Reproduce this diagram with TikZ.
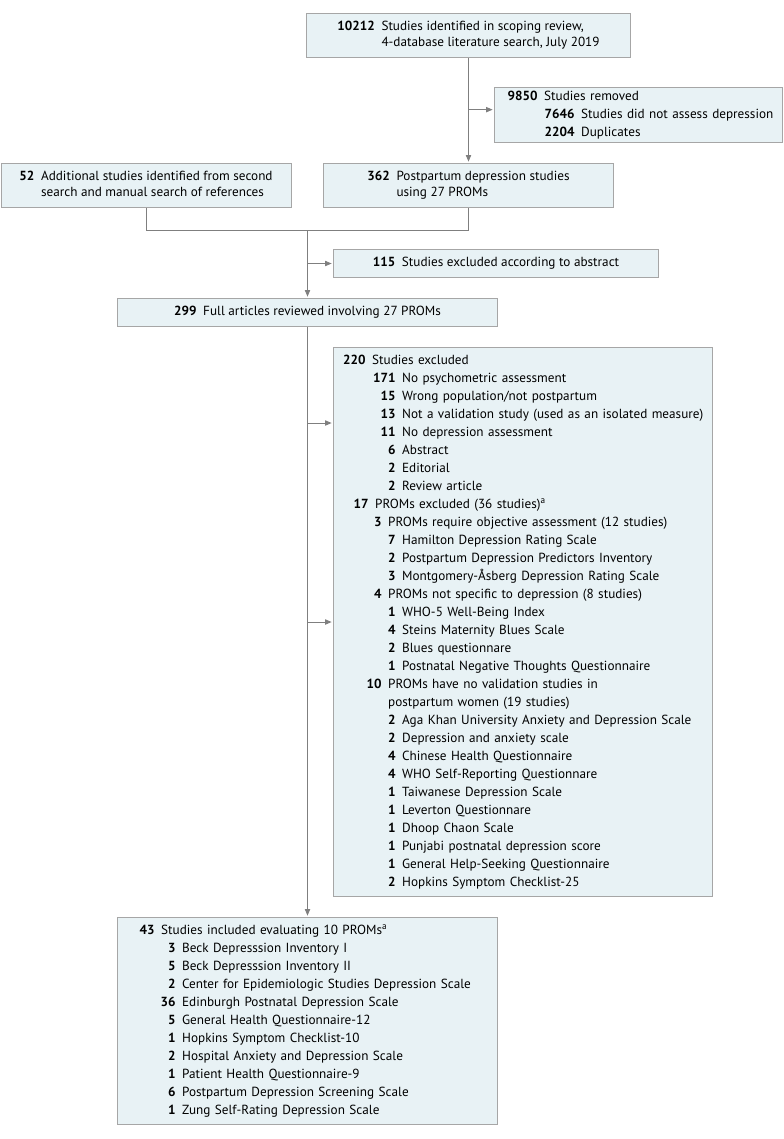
\documentclass[tikz,border=0pt]{standalone}
\usepackage{fontspec}
\setmainfont{PT Sans}
\usetikzlibrary{arrows.meta,positioning,calc}
\definecolor{boxfill}{HTML}{E8F2F5}
\definecolor{boxline}{HTML}{A6A6A6}
\definecolor{flowline}{HTML}{7F7F7F}
\newcommand{\itm}[3]{\hspace*{#1}\llap{\textbf{#2}}\hspace{5pt}#3}
\newcommand{\cnt}[2]{\textbf{#1}\hspace{5pt}\begin{tabular}[t]{@{}l@{}}#2\end{tabular}}

\begin{document}
\begin{tikzpicture}[
  x=0.75pt,y=-0.75pt,
  b/.style={draw=boxline,fill=boxfill,line width=0.75pt,inner sep=0pt,anchor=north west,font=\fontsize{9.9}{11.7}\selectfont},
  lst/.style={b,align=left,font=\fontsize{9.9}{13.5}\selectfont},
  arr/.style={-{Triangle[length=5pt,width=4pt]},draw=flowline,line width=0.75pt,shorten >=1pt},
  ln/.style={draw=flowline,line width=0.75pt}
]
\useasboundingbox (0,0) rectangle (783,1139);
\node[b,minimum width=243pt,minimum height=33pt] (src) at (306,13)
  {\cnt{10212}{Studies identified in scoping review,\\4-database literature search, July 2019}};
\node[lst,text width=216pt,minimum height=41.25pt] (rem) at (494,87)
  {\itm{32.25pt}{9850}{Studies removed}\\
   \itm{60pt}{7646}{Studies did not assess depression}\\
   \itm{60pt}{2204}{Duplicates}};
\node[b,minimum width=217.5pt,minimum height=33pt] (pp) at (323,163)
  {\cnt{362}{Postpartum depression studies\\using 27 PROMs}};
\node[b,minimum width=217.5pt,minimum height=33pt] (add) at (0.5,163)
  {\cnt{52}{Additional studies identified from second\\search and manual search of references}};
\node[b,minimum width=243.75pt,minimum height=21pt] (abs) at (333,249)
  {\textbf{115}\hspace{5pt}Studies excluded according to abstract};
\node[b,minimum width=285pt,minimum height=21pt] (full) at (117,298)
  {\textbf{299}\hspace{5pt}Full articles reviewed involving 27 PROMs};
\node[lst,text width=284.25pt,minimum height=411.75pt] (exc) at (333,347)
  {\itm{24pt}{220}{Studies excluded}\\
   \itm{46.5pt}{171}{No psychometric assessment}\\
   \itm{46.5pt}{15}{Wrong population/not postpartum}\\
   \itm{46.5pt}{13}{Not a validation study (used as an isolated measure)}\\
   \itm{46.5pt}{11}{No depression assessment}\\
   \itm{46.5pt}{6}{Abstract}\\
   \itm{46.5pt}{2}{Editorial}\\
   \itm{46.5pt}{2}{Review article}\\
   \itm{26.25pt}{17}{PROMs excluded (36 studies)\textsuperscript{a}}\\
   \itm{36pt}{3}{PROMs require objective assessment (12 studies)}\\
   \itm{46.5pt}{7}{Hamilton Depression Rating Scale}\\
   \itm{46.5pt}{2}{Postpartum Depression Predictors Inventory}\\
   \itm{46.5pt}{3}{Montgomery-Åsberg Depression Rating Scale}\\
   \itm{36pt}{4}{PROMs not specific to depression (8 studies)}\\
   \itm{46.5pt}{1}{WHO-5 Well-Being Index}\\
   \itm{46.5pt}{4}{Steins Maternity Blues Scale}\\
   \itm{46.5pt}{2}{Blues questionnare}\\
   \itm{46.5pt}{1}{Postnatal Negative Thoughts Questionnaire}\\
   \itm{36pt}{10}{PROMs have no validation studies in}\\
   \itm{36pt}{}{postpartum women (19 studies)}\\
   \itm{46.5pt}{2}{Aga Khan University Anxiety and Depression Scale}\\
   \itm{46.5pt}{2}{Depression and anxiety scale}\\
   \itm{46.5pt}{4}{Chinese Health Questionnaire}\\
   \itm{46.5pt}{4}{WHO Self-Reporting Questionnare}\\
   \itm{46.5pt}{1}{Taiwanese Depression Scale}\\
   \itm{46.5pt}{1}{Leverton Questionnare}\\
   \itm{46.5pt}{1}{Dhoop Chaon Scale}\\
   \itm{46.5pt}{1}{Punjabi postnatal depression score}\\
   \itm{46.5pt}{1}{General Help-Seeking Questionnaire}\\
   \itm{46.5pt}{2}{Hopkins Symptom Checklist-25}};
\node[lst,text width=285pt,minimum height=155.25pt] (inc) at (117,917)
  {\itm{27.75pt}{43}{Studies included evaluating 10 PROMs\textsuperscript{a}}\\
   \itm{43.5pt}{3}{Beck Depresssion Inventory I}\\
   \itm{43.5pt}{5}{Beck Depresssion Inventory II}\\
   \itm{43.5pt}{2}{Center for Epidemiologic Studies Depression Scale}\\
   \itm{43.5pt}{36}{Edinburgh Postnatal Depression Scale}\\
   \itm{43.5pt}{5}{General Health Questionnaire-12}\\
   \itm{43.5pt}{1}{Hopkins Symptom Checklist-10}\\
   \itm{43.5pt}{2}{Hospital Anxiety and Depression Scale}\\
   \itm{43.5pt}{1}{Patient Health Questionnaire-9}\\
   \itm{43.5pt}{6}{Postpartum Depression Screening Scale}\\
   \itm{43.5pt}{1}{Zung Self-Rating Depression Scale}};
\draw[arr] (src) -- (pp);
\draw[arr] ([yshift=4pt]rem.west -| src.south) -- ([yshift=4pt]rem.west);
\draw[ln] (add.south) -- ++(0,22) coordinate (mk) -| (pp.south);
\draw[arr] (mk -| full.north) -- (full.north);
\draw[arr] (full.north |- abs.west) -- (abs.west);
\draw[arr] (full) -- (inc);
\draw[arr] ([yshift=-57pt]exc.north west -| full.south) -- ([yshift=-57pt]exc.north west);
\draw[arr] (full.south |- exc.west) -- (exc.west);
\end{tikzpicture}
\end{document}
